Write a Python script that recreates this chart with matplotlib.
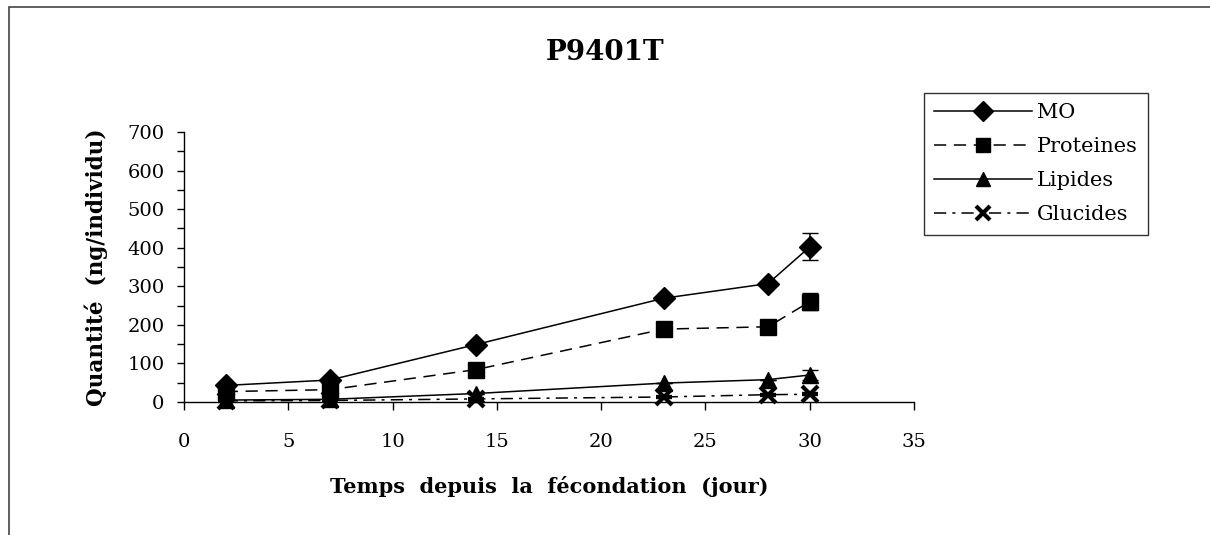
import matplotlib
matplotlib.use('Agg')
import matplotlib.pyplot as plt
from matplotlib.lines import Line2D
from matplotlib.patches import Rectangle
from matplotlib.ticker import MultipleLocator

# data
days = [2, 7, 14, 23, 28, 30]
mo = [43, 57, 149, 269, 307, 402]
proteines = [27, 32, 84, 189, 195, 260]
lipides = [5, 7, 22, 49, 58, 70]
glucides = [3, 4, 8, 13, 19, 20]
moErr = [0, 0, 0, 0, 0, 35]
proteinesErr = [0, 0, 0, 0, 0, 22]
lipidesErr = [0, 0, 0, 0, 0, 12]
glucidesErr = [0, 0, 0, 0, 0, 0]
seriesNames = ['MO', 'Proteines', 'Lipides', 'Glucides']

plt.rcParams['font.family'] = ['DejaVu Serif']

fig = plt.figure(figsize=(12.1, 5.35), dpi=100)
ax = fig.add_axes([184 / 1210, 1 - 402 / 535, 730 / 1210, 270 / 535])

styles = [
    dict(marker='D', ls='-', ms=11, mew=1),
    dict(marker='s', ls=(0, (8, 5)), ms=11, mew=1),
    dict(marker='^', ls='-', ms=11, mew=1),
    dict(marker='x', ls=(0, (8, 4, 2, 4)), ms=11, mew=3),
]
allSeries = [(mo, moErr), (proteines, proteinesErr), (lipides, lipidesErr), (glucides, glucidesErr)]

legendHandles = []
for (vals, errs), st, name in zip(allSeries, styles, seriesNames):
    h = ax.errorbar(days, vals, yerr=errs, color='black', lw=1.1, capsize=6,
                    elinewidth=1.1, capthick=1.1, marker=st['marker'], ls=st['ls'],
                    ms=st['ms'], mew=st['mew'], mfc='black', mec='black')
    h.lines[0].set_clip_on(False)
    for art in h.lines[1]:
        art.set_clip_on(False)
    legendHandles.append(Line2D([], [], color='black', lw=1.1, ls=st['ls'], marker=st['marker'],
                                ms=st['ms'] - 1, mew=st['mew'], mfc='black', mec='black'))

ax.set_xlim(0, 35)
ax.set_ylim(0, 700)
ax.xaxis.set_major_locator(MultipleLocator(5))
ax.yaxis.set_major_locator(MultipleLocator(100))
ax.yaxis.set_minor_locator(MultipleLocator(50))
ax.spines['top'].set_visible(False)
ax.spines['right'].set_visible(False)
ax.spines['left'].set_linewidth(1)
ax.spines['bottom'].set_linewidth(1)
ax.tick_params(axis='x', which='major', direction='out', length=6, width=1, labelsize=14, pad=16)
ax.tick_params(axis='y', which='major', direction='out', length=5, width=1, labelsize=14, pad=9)
ax.tick_params(axis='y', which='minor', direction='out', length=5, width=1)

ax.set_xlabel('Temps  depuis  la  fécondation  (jour)', fontsize=15, fontweight='bold', labelpad=18)
ax.set_ylabel('Quantité  (ng/individu)', fontsize=15.5, fontweight='bold', labelpad=14)
fig.text(0.5, 1 - 52 / 535, 'P9401T', ha='center', va='center', fontsize=20, fontweight='bold')

leg = fig.legend(legendHandles, seriesNames, loc='upper left', bbox_to_anchor=(924 / 1210, 1 - 93 / 535),
                 fontsize=15, frameon=True, fancybox=False, handlelength=4.7,
                 handletextpad=0.2, labelspacing=0.72, borderpad=0.5, borderaxespad=0)
leg.get_frame().set_edgecolor('black')
leg.get_frame().set_linewidth(1)

fig.patches.append(Rectangle((9 / 1210, -0.01), 1.05, 1 - 7 / 535 + 0.01, transform=fig.transFigure,
                             fill=False, edgecolor='#444444', lw=1.2))

fig.savefig('out.png', dpi=100)
